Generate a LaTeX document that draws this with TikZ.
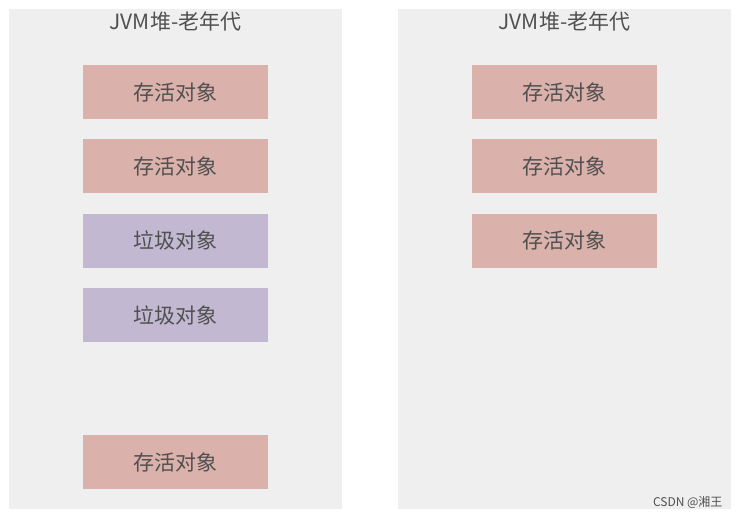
\documentclass[tikz,border=0pt]{standalone}
\usepackage{fontspec}
\setmainfont{Noto Sans CJK SC}
\usetikzlibrary{positioning}
\definecolor{panelgray}{HTML}{EFEFEF}
\definecolor{livered}{HTML}{DAB1AB}
\definecolor{junkpurple}{HTML}{C2B8D2}
\definecolor{textgray}{HTML}{505050}
\tikzset{
	panel/.style={fill=panelgray,minimum width=333pt,minimum height=500pt,inner sep=0pt},
	obj/.style={minimum width=185pt,minimum height=54pt,inner sep=0pt,text=textgray,font=\fontsize{21}{24}\selectfont},
	live/.style={obj,fill=livered},
	junk/.style={obj,fill=junkpurple},
	title/.style={text=textgray,font=\fontsize{21}{24}\selectfont}
}
\begin{document}
\begin{tikzpicture}[x=1pt,y=-1pt]
\useasboundingbox (0,0) rectangle (740,518);
\node[panel] (L) at (175.5,259) {};
\node[panel] (R) at (564.5,259) {};
\node[title] (tL) at (175.5,22) {JVM堆-老年代};
\node[title] (tR) at (564.5,22) {JVM堆-老年代};
% before
\node[live] (l1) at (175.5,92) {存活对象};
\node[live,below=20pt of l1] (l2) {存活对象};
\node[junk,below=20pt of l2] (l3) {垃圾对象};
\node[junk,below=20pt of l3] (l4) {垃圾对象};
\node[live] (l5) at (175.5,462) {存活对象};
% after
\node[live] (r1) at (564.5,92) {存活对象};
\node[live,below=20pt of r1] (r2) {存活对象};
\node[live,below=20pt of r2] (r3) {存活对象};
\node[text=textgray,font=\fontsize{12}{13}\selectfont,anchor=east] (mark) at (726,502) {CSDN @湘王};
\end{tikzpicture}
\end{document}
